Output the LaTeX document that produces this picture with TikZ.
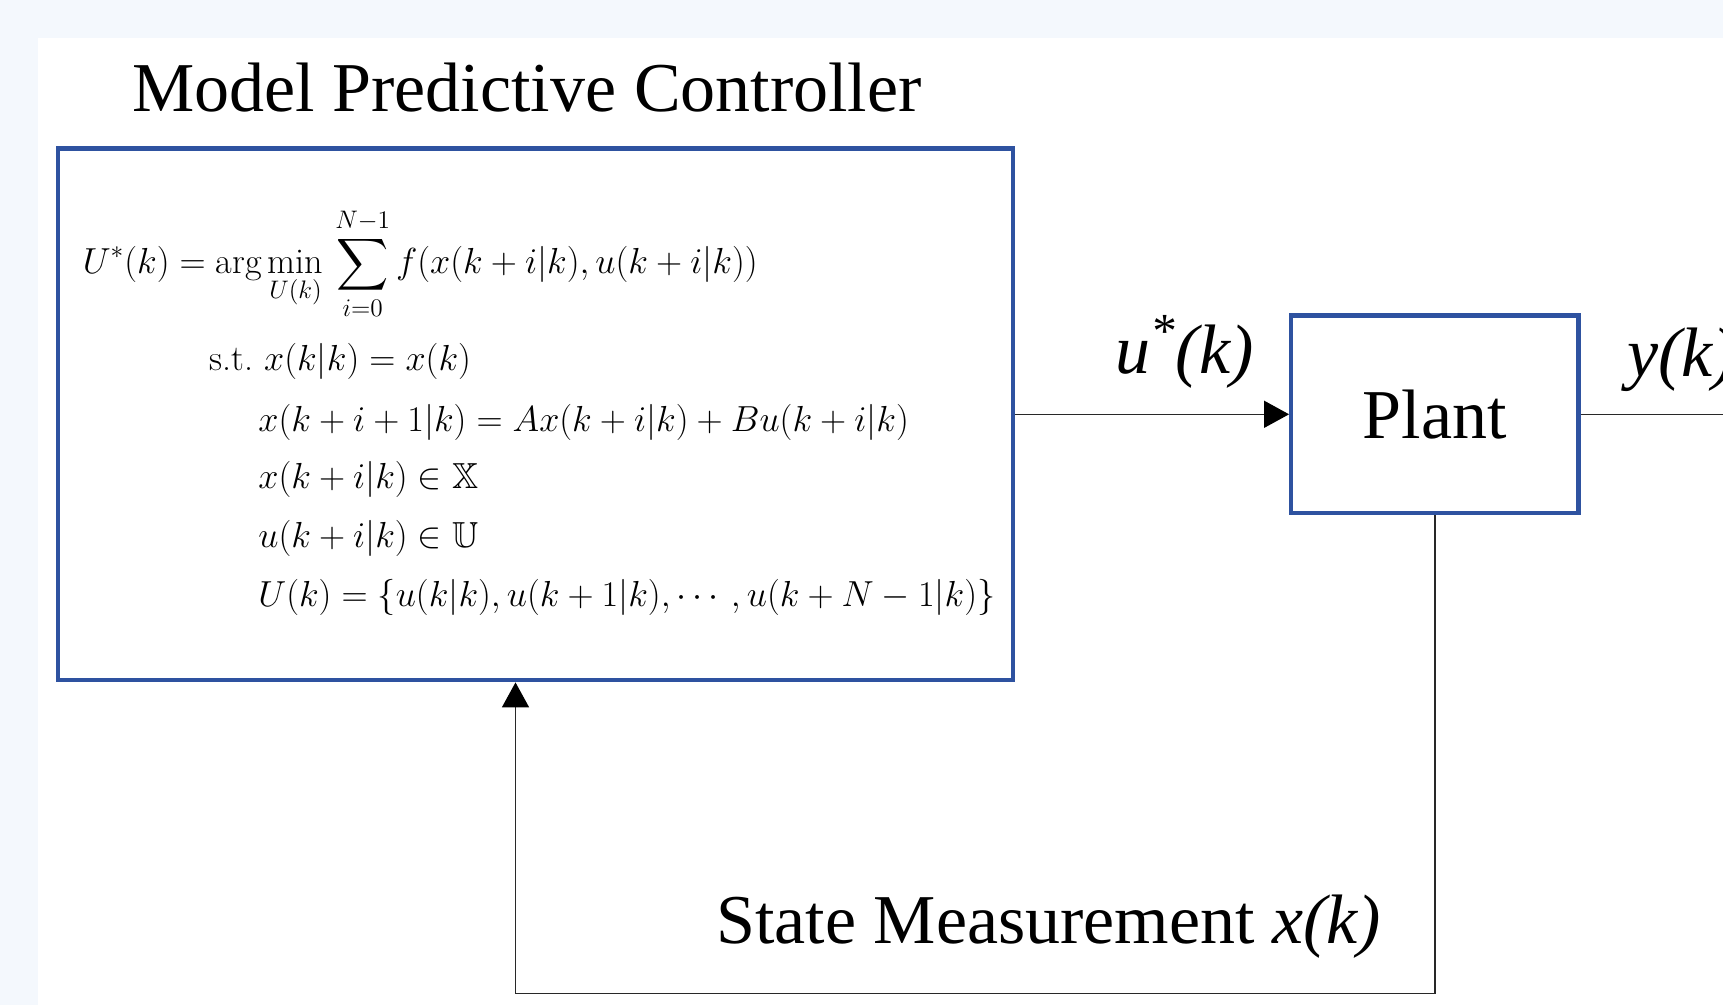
\RequirePackage{fix-cm}
\documentclass[tikz,border=0pt]{standalone}
\usepackage{amsmath,amssymb}
\usepackage{fontspec}
\newfontfamily\tnr{Liberation Serif}
\usetikzlibrary{arrows.meta}
\definecolor{bgblue}{RGB}{244,248,253}
\definecolor{boxblue}{RGB}{46,82,160}
\definecolor{wire}{RGB}{40,40,40}
\begin{document}
\begin{tikzpicture}[x=0.5pt,y=-0.5pt,
  blockbox/.style={draw=boxblue, line width=2.2pt, fill=white},
  wirepath/.style={draw=wire, line width=0.75pt},
  arr/.style={-{Triangle[length=12.5pt,width=13.5pt,color=black]}},
  bigtext/.style={font=\tnr\fontsize{35}{42}\selectfont, inner sep=0pt},
  eq/.style={font=\fontsize{18.1}{22}\selectfont, inner sep=0pt, anchor=base west},
]
\useasboundingbox (0,0) rectangle (1723,1005);
\fill[bgblue] (0,0) rectangle (1723,1005);
\fill[white] (38,38) rectangle (1723,1005);

% blocks
\node[blockbox, minimum width=477.5pt, minimum height=265.9pt] (mpc) at (535.7,414.3) {};
\node[blockbox, bigtext, minimum width=143.65pt, minimum height=98.9pt] (plant) at (1434.9,414.3) {Plant};

% title
\node[bigtext, anchor=base west] (title) at (132,112) {Model Predictive Controller};

% equations
\node[eq] (eq1) at (82.4,273.6) {$\displaystyle U^*(k) = \arg\min_{U(k)}\, \sum_{i=0}^{N-1} f(x(k+i|k),u(k+i|k))$};
\node[eq] (eq2) at (209,371) {s.t.\ $x(k|k) = x(k)$};
\node[eq] (eq3) at (258,431) {$x(k+i+1|k) = Ax(k+i|k) + Bu(k+i|k)$};
\node[eq] (eq4) at (258,488) {$x(k+i|k) \in \mathbb{X}$};
\node[eq] (eq5) at (258,547) {$u(k+i|k) \in \mathbb{U}$};
\node[eq] (eq6) at (258,606) {$U(k) = \{u(k|k), u(k+1|k), \cdots, u(k+N-1|k)\}$};

% labels
\node[bigtext, anchor=base west] (ulab) at (1115,373) {\itshape u\textsuperscript{*}(k)};
\node[bigtext, anchor=base west] (ylab) at (1627,377) {\itshape y(k)};
\node[bigtext, anchor=base west] (smlab) at (716,943) {State Measurement \textit{x(k)}};

% connectors
\coordinate (yout) at (1723,414.3);
\coordinate (fb) at (515.5,993.5);
\draw[wirepath, arr] (mpc.east) -- (plant.west);
\draw[wirepath] (plant.east) -- (yout);
\draw[wirepath, arr] (plant.south) |- (fb) -- (fb |- mpc.south);
\end{tikzpicture}
\end{document}
